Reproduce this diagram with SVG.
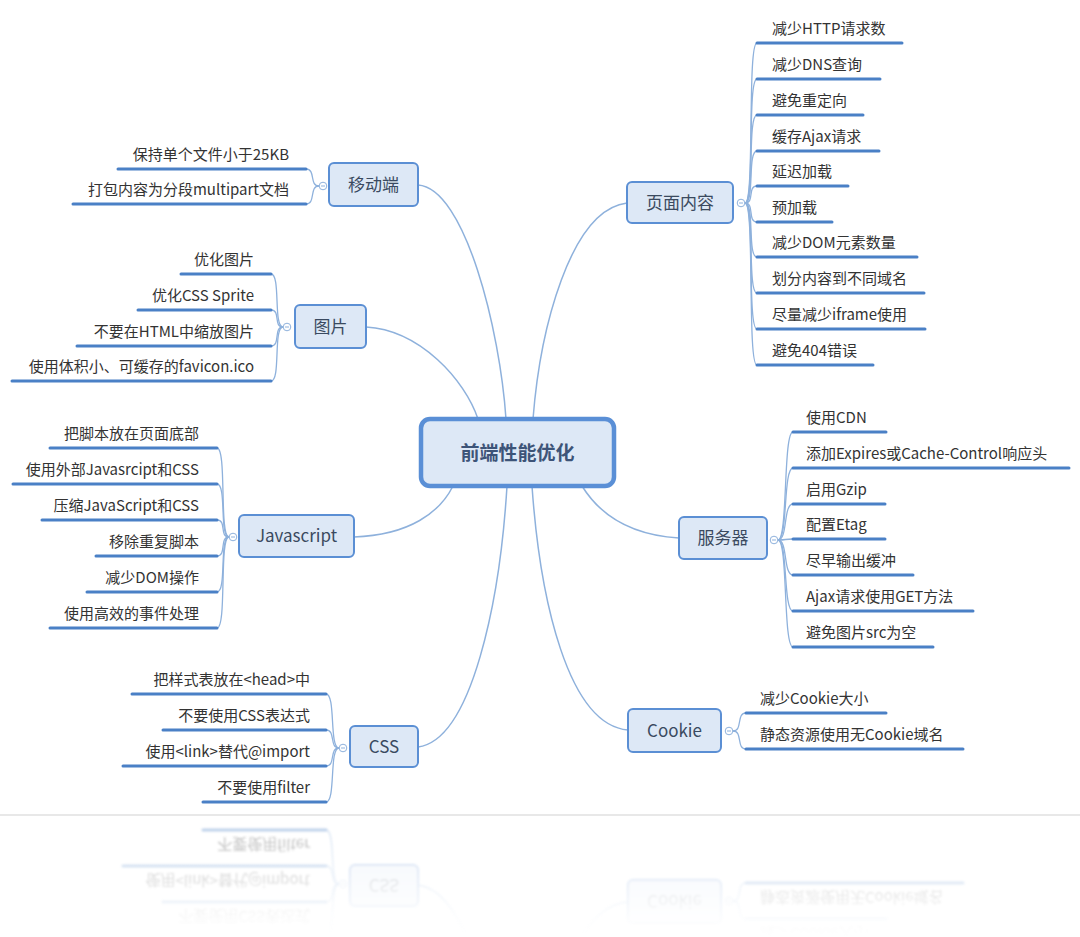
<svg xmlns="http://www.w3.org/2000/svg" xmlns:xlink="http://www.w3.org/1999/xlink" width="1080" height="937" viewBox="0 0 1080 937">
<style>
text{font-family:"Noto Sans CJK SC","Noto Sans",sans-serif;}
.item{font-size:15px;fill:#333;}
.l{text-anchor:end;}
.ul{stroke:#4a80c6;stroke-width:3;fill:none;stroke-linecap:round;}
.br{stroke:#8eb1dc;stroke-width:1.3;fill:none;}
.main{stroke:#8eb1dc;stroke-width:1.5;fill:none;}
.box{fill:#dde8f6;stroke:#5b8fd4;stroke-width:2;}
.root{fill:#dde8f6;stroke:#5a8fd6;stroke-width:4.5;}
.nt{font-size:17px;fill:#3a4a60;text-anchor:middle;}
.rt{font-size:19px;font-weight:bold;fill:#3d5478;text-anchor:middle;}
.cc{fill:#fff;stroke:#8eb1dc;stroke-width:1;}
.cm{stroke:#8eb1dc;stroke-width:1;}
</style>
<defs>
<linearGradient id="fg" x1="0" y1="0" x2="0" y2="1">
<stop offset="0" stop-color="#fff" stop-opacity="0.4"/>
<stop offset="0.85" stop-color="#fff" stop-opacity="0.03"/>
<stop offset="1" stop-color="#fff" stop-opacity="0"/>
</linearGradient>
<mask id="fade" maskUnits="userSpaceOnUse" x="0" y="816" width="1080" height="121">
<rect x="0" y="816" width="1080" height="121" fill="url(#fg)"/>
</mask>
<filter id="blur"><feGaussianBlur stdDeviation="0.8"/></filter>
</defs>
<rect width="1080" height="937" fill="#fff"/>
<g id="diagram">
<g id="connectors">
<path class="main" d="M418,185 C465,188 500,330 506,419"/>
<path class="main" d="M366,327 C420,330 465,380 478,419"/>
<path class="main" d="M627,203 C570,210 540,330 533,419"/>
<path class="main" d="M354,537 C410,535 440,512 453,486"/>
<path class="main" d="M418,747 C472,740 500,600 507,486"/>
<path class="main" d="M628,730 C568,725 540,600 532,486"/>
<path class="main" d="M679,538 C630,535 600,515 582,486"/>
<path class="br" d="M745,203 C755,203 747,43 757,43"/>
<path class="br" d="M745,203 C755,203 747,79 757,79"/>
<path class="br" d="M745,203 C755,203 747,115 757,115"/>
<path class="br" d="M745,203 C755,203 747,151 757,151"/>
<path class="br" d="M745,203 C755,203 747,186 757,186"/>
<path class="br" d="M745,203 C755,203 747,222 757,222"/>
<path class="br" d="M745,203 C755,203 747,257 757,257"/>
<path class="br" d="M745,203 C755,203 747,293 757,293"/>
<path class="br" d="M745,203 C755,203 747,329 757,329"/>
<path class="br" d="M745,203 C755,203 747,365 757,365"/>
<path class="br" d="M778,540 C788,540 783,432 793,432"/>
<path class="br" d="M778,540 C788,540 783,468 793,468"/>
<path class="br" d="M778,540 C788,540 783,504 793,504"/>
<path class="br" d="M778,540 C788,540 783,539 793,539"/>
<path class="br" d="M778,540 C788,540 783,575 793,575"/>
<path class="br" d="M778,540 C788,540 783,611 793,611"/>
<path class="br" d="M778,540 C788,540 783,647 793,647"/>
<path class="br" d="M733,731 C743,731 736,713 746,713"/>
<path class="br" d="M733,731 C743,731 736,749 746,749"/>
<path class="br" d="M319,186 C309,186 316,169 306,169"/>
<path class="br" d="M319,186 C309,186 316,204 306,204"/>
<path class="br" d="M283,327 C273,327 281,274 271,274"/>
<path class="br" d="M283,327 C273,327 281,310 271,310"/>
<path class="br" d="M283,327 C273,327 281,346 271,346"/>
<path class="br" d="M283,327 C273,327 281,381 271,381"/>
<path class="br" d="M229,537 C219,537 227,448 217,448"/>
<path class="br" d="M229,537 C219,537 227,484 217,484"/>
<path class="br" d="M229,537 C219,537 227,520 217,520"/>
<path class="br" d="M229,537 C219,537 227,556 217,556"/>
<path class="br" d="M229,537 C219,537 227,592 217,592"/>
<path class="br" d="M229,537 C219,537 227,628 217,628"/>
<path class="br" d="M339,748 C329,748 336,694 326,694"/>
<path class="br" d="M339,748 C329,748 336,730 326,730"/>
<path class="br" d="M339,748 C329,748 336,766 326,766"/>
<path class="br" d="M339,748 C329,748 336,802 326,802"/>
</g>
<g id="root">
<rect class="root" x="421" y="419" width="193" height="67" rx="9"/>
<text class="rt" x="517.5" y="459.5">前端性能优化</text>
</g>
<g id="page">
<rect class="box" x="627" y="182" width="106" height="41" rx="5"/>
<text class="nt" x="680" y="209">页面内容</text>
<circle class="cc" cx="741" cy="203" r="3.8"/><line class="cm" x1="739" y1="203" x2="743" y2="203"/>
<path class="ul" d="M757,43H902M757,79H880M757,115H863M757,151H879M757,186H848M757,222H832M757,257H917M757,293H924M757,329H925M757,365H873"/>
<text class="item" x="772" y="34">减少HTTP请求数</text>
<text class="item" x="772" y="70">减少DNS查询</text>
<text class="item" x="772" y="106">避免重定向</text>
<text class="item" x="772" y="142">缓存Ajax请求</text>
<text class="item" x="772" y="177">延迟加载</text>
<text class="item" x="772" y="213">预加载</text>
<text class="item" x="772" y="248">减少DOM元素数量</text>
<text class="item" x="772" y="284">划分内容到不同域名</text>
<text class="item" x="772" y="320">尽量减少iframe使用</text>
<text class="item" x="772" y="356">避免404错误</text>
</g>
<g id="server">
<rect class="box" x="679" y="517" width="88" height="42" rx="5"/>
<text class="nt" x="723" y="544">服务器</text>
<circle class="cc" cx="774" cy="540" r="3.8"/><line class="cm" x1="772" y1="540" x2="776" y2="540"/>
<path class="ul" d="M793,432H886M793,468H1069M793,504H885M793,539H885M793,575H913M793,611H973M793,647H933"/>
<text class="item" x="806" y="423">使用CDN</text>
<text class="item" x="806" y="459">添加Expires或Cache-Control响应头</text>
<text class="item" x="806" y="495">启用Gzip</text>
<text class="item" x="806" y="530">配置Etag</text>
<text class="item" x="806" y="566">尽早输出缓冲</text>
<text class="item" x="806" y="602">Ajax请求使用GET方法</text>
<text class="item" x="806" y="638">避免图片src为空</text>
</g>
<g id="cookie">
<rect class="box" x="628" y="709" width="93" height="43" rx="5"/>
<text class="nt" x="674.5" y="737">Cookie</text>
<circle class="cc" cx="729" cy="731" r="3.8"/><line class="cm" x1="727" y1="731" x2="731" y2="731"/>
<path class="ul" d="M746,713H886M746,749H963"/>
<text class="item" x="760" y="704">减少Cookie大小</text>
<text class="item" x="760" y="740">静态资源使用无Cookie域名</text>
</g>
<g id="mobile">
<rect class="box" x="329" y="163" width="89" height="43" rx="5"/>
<text class="nt" x="373.5" y="191">移动端</text>
<circle class="cc" cx="323" cy="186" r="3.8"/><line class="cm" x1="321" y1="186" x2="325" y2="186"/>
<path class="ul" d="M118,169H306M73,204H306"/>
<text class="item l" x="289" y="160">保持单个文件小于25KB</text>
<text class="item l" x="289" y="195">打包内容为分段multipart文档</text>
</g>
<g id="image">
<rect class="box" x="295" y="305" width="71" height="43" rx="5"/>
<text class="nt" x="330.5" y="333">图片</text>
<circle class="cc" cx="287" cy="327" r="3.8"/><line class="cm" x1="285" y1="327" x2="289" y2="327"/>
<path class="ul" d="M181,274H271M138,310H271M77,346H271M12,381H271"/>
<text class="item l" x="254" y="265">优化图片</text>
<text class="item l" x="254" y="301">优化CSS Sprite</text>
<text class="item l" x="254" y="337">不要在HTML中缩放图片</text>
<text class="item l" x="254" y="372">使用体积小、可缓存的favicon.ico</text>
</g>
<g id="javascript">
<rect class="box" x="239" y="515" width="115" height="42" rx="5"/>
<text class="nt" x="296.5" y="542">Javascript</text>
<circle class="cc" cx="233" cy="537" r="3.8"/><line class="cm" x1="231" y1="537" x2="235" y2="537"/>
<path class="ul" d="M50,448H217M13,484H217M42,520H217M96,556H217M87,592H217M50,628H217"/>
<text class="item l" x="199" y="439">把脚本放在页面底部</text>
<text class="item l" x="199" y="475">使用外部Javasrcipt和CSS</text>
<text class="item l" x="199" y="511">压缩JavaScript和CSS</text>
<text class="item l" x="199" y="547">移除重复脚本</text>
<text class="item l" x="199" y="583">减少DOM操作</text>
<text class="item l" x="199" y="619">使用高效的事件处理</text>
</g>
<g id="css">
<rect class="box" x="350" y="726" width="68" height="41" rx="5"/>
<text class="nt" x="384" y="753">CSS</text>
<circle class="cc" cx="343" cy="748" r="3.8"/><line class="cm" x1="341" y1="748" x2="345" y2="748"/>
<path class="ul" d="M132,694H326M163,730H326M123,766H326M203,802H326"/>
<text class="item l" x="310" y="685">把样式表放在&lt;head&gt;中</text>
<text class="item l" x="310" y="721">不要使用CSS表达式</text>
<text class="item l" x="310" y="757">使用&lt;link&gt;替代@import</text>
<text class="item l" x="310" y="793">不要使用filter</text>
</g>
</g>
<g id="reflection" mask="url(#fade)">
<use xlink:href="#diagram" href="#diagram" transform="matrix(1 0 0 -1 0 1632)" filter="url(#blur)"/>
</g>
<line x1="0" y1="815" x2="1080" y2="815" stroke="#e8e8e8" stroke-width="2"/>
</svg>
